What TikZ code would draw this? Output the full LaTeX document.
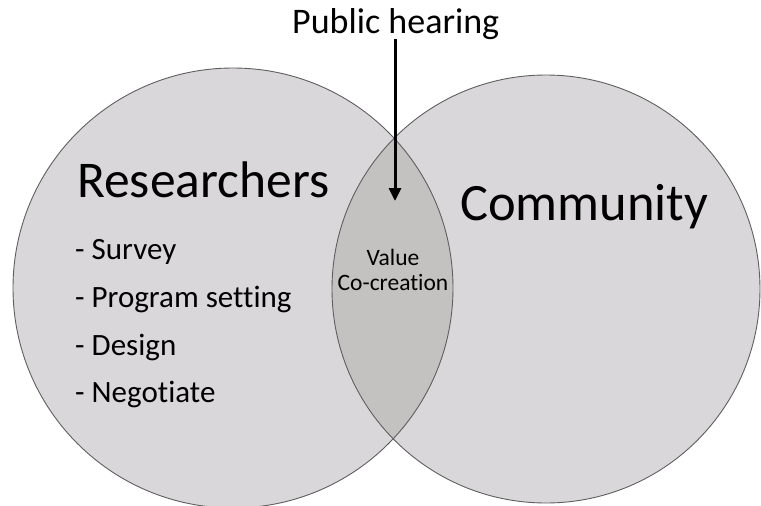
\documentclass[tikz,border=0pt]{standalone}
\usepackage{fontspec}
\setmainfont{Carlito}[RawFeature=-liga]
\usetikzlibrary{arrows.meta}
\definecolor{circfill}{RGB}{217,215,217}
\definecolor{lensfill}{RGB}{196,194,192}
\definecolor{edgegray}{RGB}{95,95,95}
\begin{document}
\begin{tikzpicture}[x=1pt,y=-1pt,
  txt/.style={anchor=base west, inner sep=0pt, text=black},
  big/.style={txt, font=\fontsize{51.5}{60}\selectfont},
  mid/.style={txt, font=\fontsize{31}{37}\selectfont},
  small/.style={txt, font=\fontsize{23.5}{28}\selectfont},
  ring/.style={draw=edgegray, line width=0.9pt},
  arr/.style={line width=3pt, -{Triangle[length=13pt,width=12pt]}}]
\useasboundingbox (0,0) rectangle (761,506);
\coordinate (cl) at (233,288);
\coordinate (cr) at (546,289);
\fill[circfill] (cl) circle[radius=220pt];
\fill[circfill] (cr) circle[radius=214pt];
\begin{scope}
  \clip (cl) circle[radius=220pt];
  \fill[lensfill] (cr) circle[radius=214pt];
\end{scope}
\draw[ring] (cl) circle[radius=220pt];
\draw[ring] (cr) circle[radius=214pt];
\node[big] (res) at (77,197) {Researchers};
\node[big, font=\fontsize{52.5}{60}\selectfont] (com) at (460,220) {Community};
\node[mid] (s1) at (75,259) {- Survey};
\node[mid] (s2) at (75,307) {- Program setting};
\node[mid] (s3) at (75,355) {- Design};
\node[mid] (s4) at (75,402) {- Negotiate};
\node[small, anchor=base] (v1) at (393,265) {Value};
\node[small, anchor=base] (v2) at (393,290) {Co-creation};
\node[mid, font=\fontsize{36}{43}\selectfont] (ph) at (292,33) {Public hearing};
\coordinate (tip) at (395,201);
\draw[arr] (ph.south -| tip) -- (tip);
\end{tikzpicture}
\end{document}
